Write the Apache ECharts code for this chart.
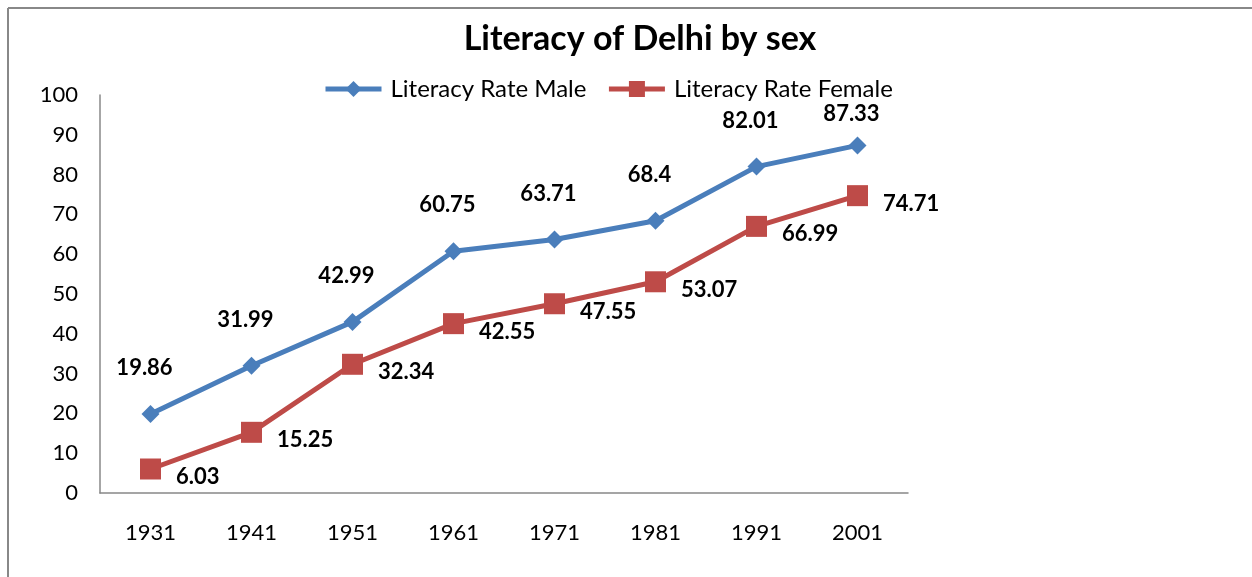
<!DOCTYPE html>
<html>
<head>
<meta charset="UTF-8">
<title>Literacy of Delhi by sex</title>
<script src="https://cdn.jsdelivr.net/npm/echarts@6/dist/echarts.min.js"></script>
<style>
  html, body { margin: 0; padding: 0; background: #fff; }
  #main { width: 1252px; height: 577px; }
</style>
</head>
<body>
<div id="main"></div>
<script>
// census years
var years = ['1931', '1941', '1951', '1961', '1971', '1981', '1991', '2001'];
// literacy rates (%)
var maleRate = [19.86, 31.99, 42.99, 60.75, 63.71, 68.4, 82.01, 87.33];
var femaleRate = [6.03, 15.25, 32.34, 42.55, 47.55, 53.07, 66.99, 74.71];

var chart = echarts.init(document.getElementById('main'));
var font = 'Lato, "Open Sans", sans-serif';

// last male label sits closer to its point so it clears the legend
var maleData = maleRate.map(function (v, i) {
  if (i === maleRate.length - 1) {
    return { value: v, label: { distance: 12 } };
  }
  return v;
});

var option = {
  backgroundColor: '#fff',
  animation: false,
  textStyle: { fontFamily: font },
  title: {
    text: 'Literacy of Delhi by sex',
    left: 635,
    textAlign: 'center',
    top: 17,
    textStyle: { fontSize: 34, fontWeight: 'bold', color: '#000', fontFamily: font }
  },
  legend: {
    top: 72,
    left: 318,
    itemWidth: 56,
    itemHeight: 20,
    itemGap: 20,
    lineStyle: { width: 5 },
    textStyle: { fontSize: 24, color: '#000', fontFamily: font, padding: [0, 0, 0, 4] },
    data: ['Literacy Rate Male', 'Literacy Rate Female']
  },
  graphic: [
    { type: 'line', shape: { x1: 8, y1: 8, x2: 1252, y2: 8 }, style: { stroke: '#888', lineWidth: 2 } },
    { type: 'line', shape: { x1: 8, y1: 8, x2: 8, y2: 577 }, style: { stroke: '#888', lineWidth: 2 } }
  ],
  grid: { left: 100, right: 344, top: 95, bottom: 84 },
  xAxis: {
    type: 'category',
    data: years,
    axisLine: { lineStyle: { color: '#888', width: 1.5 } },
    axisTick: { show: false },
    axisLabel: { color: '#000', fontSize: 22, margin: 29, fontFamily: font }
  },
  yAxis: {
    type: 'value',
    min: 0,
    max: 100,
    interval: 10,
    splitLine: { show: false },
    axisLine: { show: true, lineStyle: { color: '#888', width: 1.5 } },
    axisTick: { show: false },
    axisLabel: { color: '#000', fontSize: 22, margin: 22, fontFamily: font }
  },
  series: [
    {
      name: 'Literacy Rate Male',
      type: 'line',
      data: maleData,
      symbol: 'diamond',
      symbolSize: 18,
      color: '#4a7ebb',
      lineStyle: { width: 5, color: '#4a7ebb' },
      itemStyle: { color: '#4a7ebb' },
      label: {
        show: true,
        position: 'top',
        distance: 26,
        offset: [-6, 0],
        fontSize: 22,
        fontWeight: 'bold',
        color: '#000',
        fontFamily: font
      }
    },
    {
      name: 'Literacy Rate Female',
      type: 'line',
      data: femaleRate,
      symbol: 'rect',
      symbolSize: 21,
      color: '#be4b48',
      lineStyle: { width: 5, color: '#be4b48' },
      itemStyle: { color: '#be4b48' },
      label: {
        show: true,
        position: 'right',
        distance: 15,
        offset: [0, 8],
        fontSize: 22,
        fontWeight: 'bold',
        color: '#000',
        fontFamily: font
      }
    }
  ]
};

chart.setOption(option);
</script>
</body>
</html>
